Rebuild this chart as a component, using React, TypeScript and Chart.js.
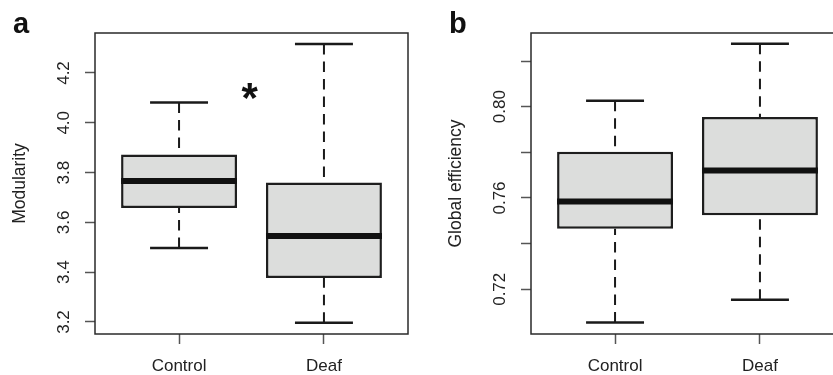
import React, { useEffect, useRef } from "react";
import { Chart, registerables } from "chart.js";

Chart.register(...registerables);

// ---------- data ----------
const categories = ["Control", "Deaf"];
const categoryPositions = [1, 2];

const modularityMin = [3.497, 3.197];
const modularityQ1 = [3.658, 3.377];
const modularityMedian = [3.766, 3.545];
const modularityQ3 = [3.873, 3.76];
const modularityMax = [4.081, 4.316];
const modularityTicks = [3.2, 3.4, 3.6, 3.8, 4.0, 4.2];
const modularityTickLabels = ["3.2", "3.4", "3.6", "3.8", "4.0", "4.2"];

const efficiencyMin = [0.7054, 0.7154];
const efficiencyQ1 = [0.7465, 0.7524];
const efficiencyMedian = [0.7585, 0.772];
const efficiencyQ3 = [0.7803, 0.7955];
const efficiencyMax = [0.8026, 0.8276];
const efficiencyTicks = [0.72, 0.74, 0.76, 0.78, 0.8, 0.82];
const efficiencyTickLabels = ["0.72", "", "0.76", "", "0.80", ""];

const significanceMark = "*";
const significanceX = [1.49];
const significanceY = [4.128];

const FONT = "'Liberation Sans', Arial, Helvetica, sans-serif";
const TEXT = "#222222";

type Panel = {
  letter: string;
  yTitle: string;
  mins: number[];
  q1: number[];
  med: number[];
  q3: number[];
  maxs: number[];
  ticks: number[];
  tickLabels: string[];
  yMin: number;
  yMax: number;
  canvasLeft: number;
  canvasWidth: number;
  yAxisWidth: number;
  rightPad: number;
  letterX: number;
  mark?: { text: string; x: number[]; y: number[] };
};

function line(ctx: CanvasRenderingContext2D, x1: number, y1: number, x2: number, y2: number) {
  ctx.beginPath();
  ctx.moveTo(x1, y1);
  ctx.lineTo(x2, y2);
  ctx.stroke();
}

function makePlugin(p: Panel) {
  return {
    id: "boxDecor",
    afterDatasetsDraw(chart: any) {
      const ctx: CanvasRenderingContext2D = chart.ctx;
      const xs = chart.scales.x;
      const ys = chart.scales.y;
      const area = chart.chartArea;
      ctx.save();
      ctx.lineCap = "butt";
      for (let i = 0; i < categories.length; i++) {
        const pos = categoryPositions[i];
        const cx = xs.getPixelForValue(pos);
        const capHalf = xs.getPixelForValue(pos + 0.2) - cx;
        const boxHalf = xs.getPixelForValue(pos + 0.4) - cx;
        // whiskers
        ctx.strokeStyle = "#1a1a1a";
        ctx.lineWidth = 2;
        ctx.setLineDash([10.5, 7]);
        line(ctx, cx, ys.getPixelForValue(p.maxs[i]), cx, ys.getPixelForValue(p.q3[i]));
        line(ctx, cx, ys.getPixelForValue(p.mins[i]), cx, ys.getPixelForValue(p.q1[i]));
        ctx.setLineDash([]);
        // caps
        ctx.lineWidth = 2.5;
        line(ctx, cx - capHalf, ys.getPixelForValue(p.maxs[i]), cx + capHalf, ys.getPixelForValue(p.maxs[i]));
        line(ctx, cx - capHalf, ys.getPixelForValue(p.mins[i]), cx + capHalf, ys.getPixelForValue(p.mins[i]));
        // median
        ctx.strokeStyle = "#111111";
        ctx.lineWidth = 6;
        line(ctx, cx - boxHalf, ys.getPixelForValue(p.med[i]), cx + boxHalf, ys.getPixelForValue(p.med[i]));
      }
      // frame
      ctx.strokeStyle = "#2a2a2a";
      ctx.lineWidth = 1.5;
      ctx.strokeRect(area.left, area.top, area.right - area.left, area.bottom - area.top);
      ctx.restore();
    },
    afterDraw(chart: any) {
      const ctx: CanvasRenderingContext2D = chart.ctx;
      const xs = chart.scales.x;
      const ys = chart.scales.y;
      const area = chart.chartArea;
      ctx.save();
      ctx.fillStyle = TEXT;
      // y tick labels (rotated)
      ctx.font = `17px ${FONT}`;
      ctx.textAlign = "center";
      ctx.textBaseline = "alphabetic";
      for (let i = 0; i < p.ticks.length; i++) {
        const lbl = p.tickLabels[i];
        if (!lbl) continue;
        const py = ys.getPixelForValue(p.ticks[i]);
        ctx.save();
        ctx.translate(area.left - 26, py);
        ctx.rotate(-Math.PI / 2);
        ctx.fillText(lbl, 0, 0);
        ctx.restore();
      }
      // y title
      ctx.save();
      ctx.font = `17.5px ${FONT}`;
      ctx.translate(area.left - 70, (area.top + area.bottom) / 2);
      ctx.rotate(-Math.PI / 2);
      ctx.fillText(p.yTitle, 0, 0);
      ctx.restore();
      // x tick labels
      ctx.font = `17px ${FONT}`;
      for (let i = 0; i < categories.length; i++) {
        const px = xs.getPixelForValue(categoryPositions[i]);
        ctx.fillText(categories[i], px, area.bottom + 37);
      }
      // panel letter
      ctx.font = `bold 29px ${FONT}`;
      ctx.textAlign = "left";
      ctx.fillStyle = "#111111";
      ctx.fillText(p.letter, p.letterX, 33);
      // significance mark
      if (p.mark) {
        ctx.font = `bold 42px ${FONT}`;
        ctx.fillStyle = "#111111";
        for (let i = 0; i < p.mark.x.length; i++) {
          const m = ctx.measureText(p.mark.text);
          const cx = xs.getPixelForValue(p.mark.x[i]);
          const cy = ys.getPixelForValue(p.mark.y[i]);
          const w = m.actualBoundingBoxLeft + m.actualBoundingBoxRight;
          const h = m.actualBoundingBoxAscent + m.actualBoundingBoxDescent;
          ctx.fillText(
            p.mark.text,
            cx - w / 2 + m.actualBoundingBoxLeft,
            cy + h / 2 - m.actualBoundingBoxDescent
          );
        }
      }
      ctx.restore();
    },
  };
}

function BoxPanel({ p }: { p: Panel }) {
  const ref = useRef<HTMLCanvasElement>(null);
  useEffect(() => {
    if (!ref.current) return;
    const chart = new Chart(ref.current, {
      type: "bar",
      data: {
        datasets: [
          {
            data: categoryPositions.map((x, i) => ({ x, y: [p.q1[i], p.q3[i]] })) as any,
            backgroundColor: "#dcdddc",
            borderColor: "#1e1e1e",
            borderWidth: 2.5,
            borderSkipped: false,
            barPercentage: 1,
            categoryPercentage: 0.8,
          },
        ],
      },
      options: {
        responsive: false,
        animation: false,
        devicePixelRatio: 1,
        layout: { padding: { top: 33, right: p.rightPad, left: 0, bottom: 0 } },
        plugins: { legend: { display: false }, tooltip: { enabled: false } },
        scales: {
          x: {
            type: "linear",
            min: 0.42,
            max: 2.58,
            offset: false,
            afterBuildTicks: (s: any) => {
              s.ticks = categoryPositions.map((v) => ({ value: v }));
            },
            afterFit: (s: any) => {
              s.height = 41;
            },
            ticks: { display: false },
            grid: {
              display: true,
              drawOnChartArea: false,
              drawTicks: true,
              tickLength: 10,
              tickColor: "#555555",
              tickWidth: 1.5,
              offset: false,
            },
            border: { display: false },
          },
          y: {
            type: "linear",
            min: p.yMin,
            max: p.yMax,
            afterBuildTicks: (s: any) => {
              s.ticks = p.ticks.map((v) => ({ value: v }));
            },
            afterFit: (s: any) => {
              s.width = p.yAxisWidth;
            },
            ticks: { display: false },
            grid: {
              display: true,
              drawOnChartArea: false,
              drawTicks: true,
              tickLength: 10,
              tickColor: "#555555",
              tickWidth: 1.5,
            },
            border: { display: false },
          },
        },
      },
      plugins: [makePlugin(p)],
    });
    return () => chart.destroy();
  }, [p]);
  return (
    <canvas
      ref={ref}
      width={p.canvasWidth}
      height={375}
      style={{ position: "absolute", left: p.canvasLeft, top: 0, width: p.canvasWidth, height: 375 }}
    />
  );
}

const panelA: Panel = {
  letter: "a",
  yTitle: "Modularity",
  mins: modularityMin,
  q1: modularityQ1,
  med: modularityMedian,
  q3: modularityQ3,
  maxs: modularityMax,
  ticks: modularityTicks,
  tickLabels: modularityTickLabels,
  yMin: 3.1518,
  yMax: 4.3606,
  canvasLeft: 0,
  canvasWidth: 420,
  yAxisWidth: 95,
  rightPad: 12,
  letterX: 13,
  mark: { text: significanceMark, x: significanceX, y: significanceY },
};

const panelB: Panel = {
  letter: "b",
  yTitle: "Global efficiency",
  mins: efficiencyMin,
  q1: efficiencyQ1,
  med: efficiencyMedian,
  q3: efficiencyQ3,
  maxs: efficiencyMax,
  ticks: efficiencyTicks,
  tickLabels: efficiencyTickLabels,
  yMin: 0.7004,
  yMax: 0.8323,
  canvasLeft: 420,
  canvasWidth: 440,
  yAxisWidth: 111,
  rightPad: 16,
  letterX: 29,
};

export default function App() {
  return (
    <div
      style={{
        position: "absolute",
        left: 0,
        top: 0,
        width: 833,
        height: 375,
        overflow: "hidden",
        background: "#ffffff",
      }}
    >
      <BoxPanel p={panelA} />
      <BoxPanel p={panelB} />
    </div>
  );
}
